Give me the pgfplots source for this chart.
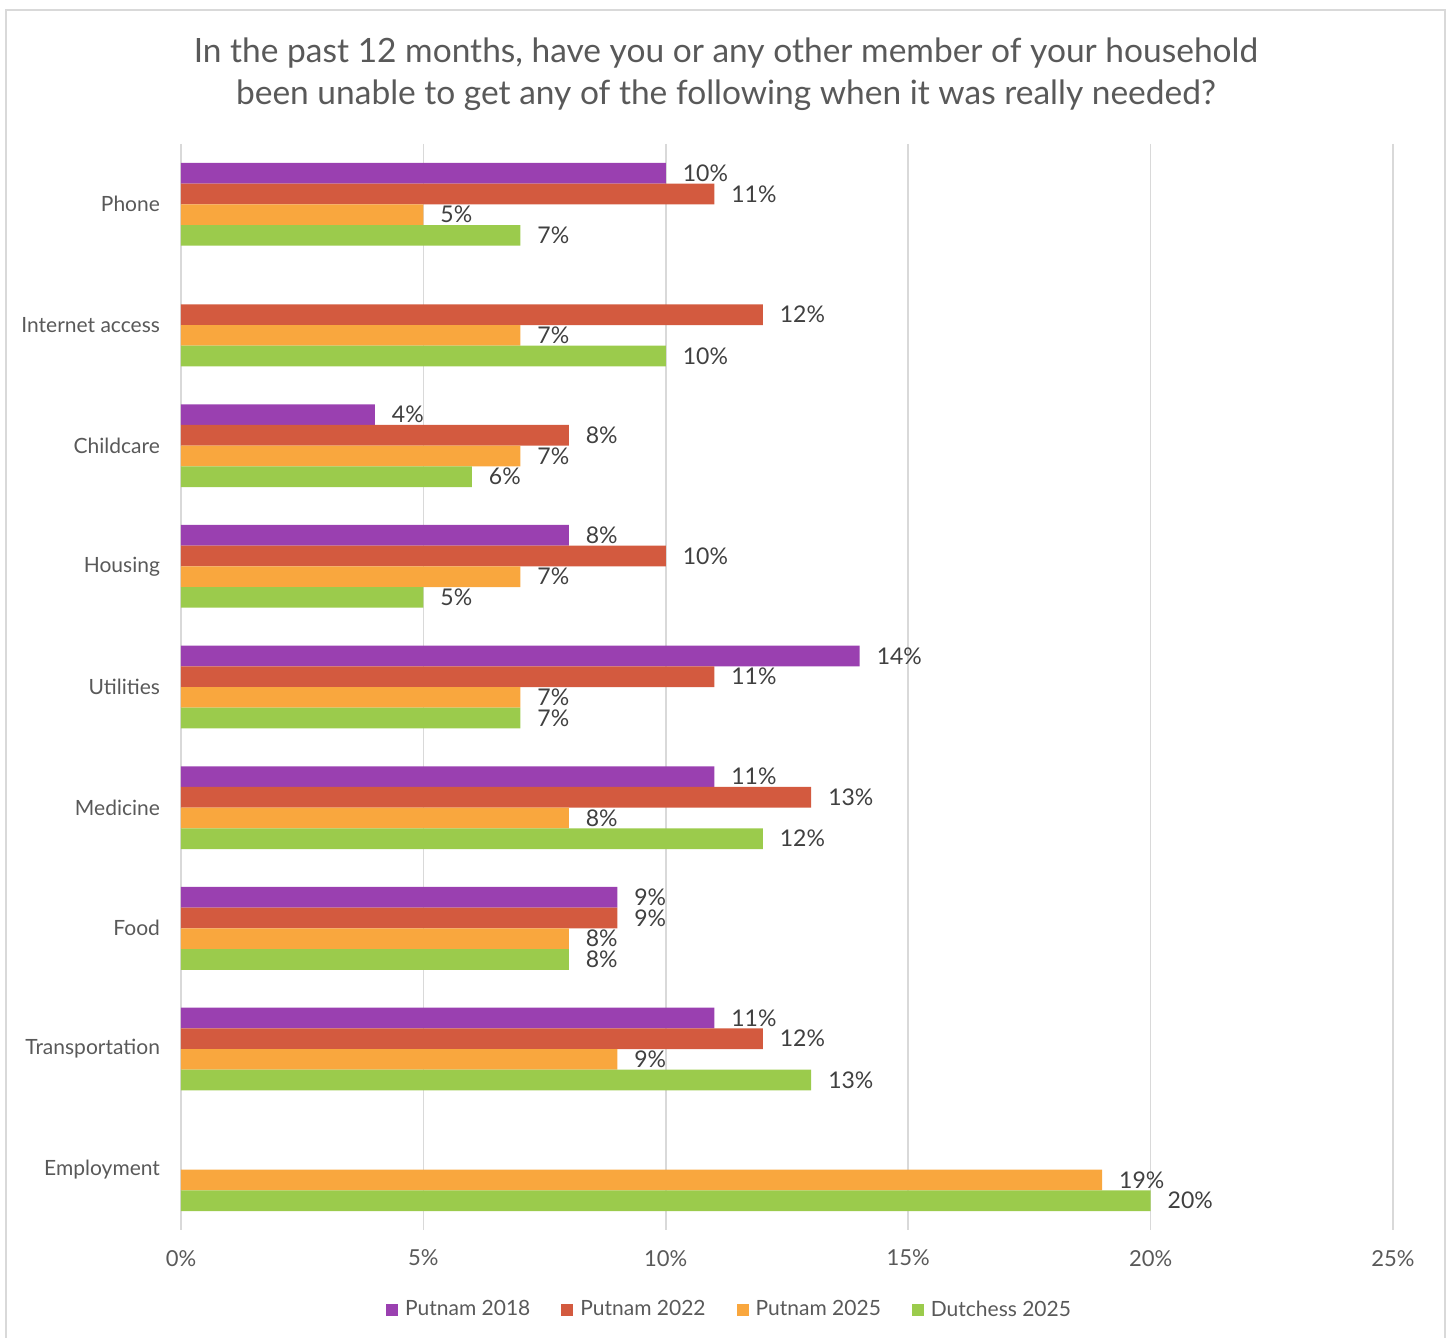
\documentclass[border=0pt]{standalone}
\usepackage{pgfplots}
\pgfplotsset{compat=1.18}
\usepackage{fontspec}
\setmainfont{Lato}
\definecolor{cpur}{HTML}{9A40B0}
\definecolor{cred}{HTML}{D35A3F}
\definecolor{cora}{HTML}{F9A73E}
\definecolor{cgre}{HTML}{9BCB4C}
\definecolor{bordergray}{HTML}{D9D9D9}
\definecolor{gridgray}{HTML}{D9D9D9}
\definecolor{txt}{HTML}{595959}
\definecolor{lab}{HTML}{404040}
\begin{document}
\begin{tikzpicture}
\useasboundingbox (0,0) rectangle (726pt,669pt);
\draw[color=bordergray, line width=1pt] (3pt,-2pt) -- (3pt,664pt) -- (722.5pt,664pt) -- (722.5pt,-2pt);
\node[align=center, font=\fontsize{16.75}{21}\selectfont, text=txt] at (363pt,632pt) {In the past 12 months, have you or any other member of your household\\been unable to get any of the following when it was really needed?};
\begin{axis}[
  at={(90.5pt,54pt)}, anchor=south west,
  scale only axis, width=606pt, height=543pt,
  xmin=0, xmax=25, ymin=-0.5, ymax=8.5, y dir=reverse,
  xbar, bar width=0.1716,
  xtick={0,5,...,25}, xticklabel={\pgfmathprintnumber{\tick}\%},
  ytick={0,...,8},
  yticklabels={Phone, Internet access, Childcare, Housing, Utilities, Medicine, Food, Transportation, Employment},
  xmajorgrids, major grid style={draw=gridgray, line width=0.8pt},
  axis line style={draw=none}, major tick length=0pt,
  tick label style={font=\fontsize{10.5}{13}\selectfont, text=txt},
  xticklabel style={yshift=-6.5pt, font=\fontsize{11}{13}\selectfont},
  yticklabel style={xshift=-7pt},
  /pgf/number format/assume math mode=true,
  point meta=x,
  nodes near coords={\pgfmathprintnumber{\pgfplotspointmeta}\%},
  nodes near coords style={anchor=west, xshift=5pt, font=\fontsize{11.5}{13}\selectfont, text=lab},
  legend columns=4,
  legend style={at={(0.453,-0.0735)}, anchor=center, draw=none, fill=none,
    font=\fontsize{10.5}{13}\selectfont, text=txt,
    /tikz/every even column/.append style={column sep=14pt},
    /tikz/every odd column/.append style={column sep=2pt},
    nodes={inner sep=1.5pt}},
  legend image code/.code={\fill[#1] (0pt,-3pt) rectangle (6pt,3pt);},
]
\addplot[fill=cpur, draw=none, bar shift=-0.2574] coordinates {(10,0) (4,2) (8,3) (14,4) (11,5) (9,6) (11,7)};
\addplot[fill=cred, draw=none, bar shift=-0.0858] coordinates {(11,0) (12,1) (8,2) (10,3) (11,4) (13,5) (9,6) (12,7)};
\addplot[fill=cora, draw=none, bar shift=0.0858] coordinates {(5,0) (7,1) (7,2) (7,3) (7,4) (8,5) (8,6) (9,7) (19,8)};
\addplot[fill=cgre, draw=none, bar shift=0.2574] coordinates {(7,0) (10,1) (6,2) (5,3) (7,4) (12,5) (8,6) (13,7) (20,8)};
\legend{Putnam 2018, Putnam 2022, Putnam 2025, Dutchess 2025}
\end{axis}
\end{tikzpicture}
\end{document}
